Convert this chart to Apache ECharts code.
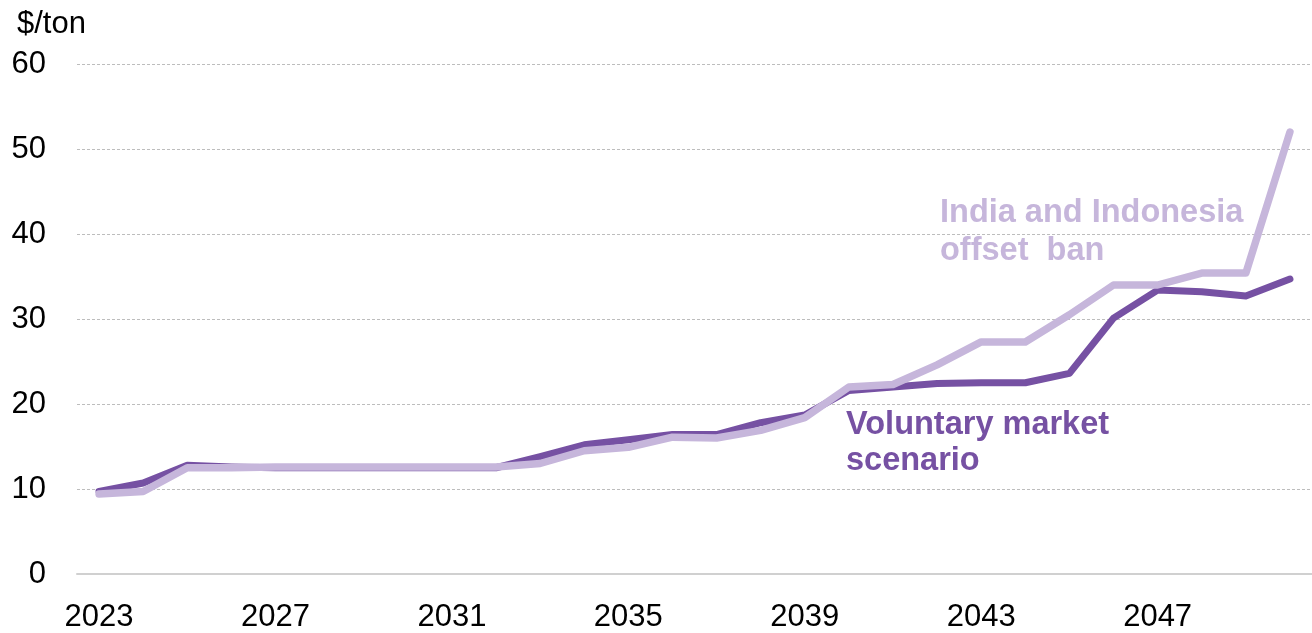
<!DOCTYPE html>
<html>
<head>
<meta charset="utf-8">
<script src="https://cdn.jsdelivr.net/npm/echarts@6/dist/echarts.min.js"></script>
<style>
  html, body { margin: 0; padding: 0; background: #fff; }
  #chart { width: 1312px; height: 633px; }
</style>
</head>
<body>
<div id="chart"></div>
<script>
var years = [];
for (var y = 2023; y <= 2050; y++) years.push(String(y));

// Voluntary market scenario ($/ton)
var voluntary = [9.7, 10.7, 12.8, 12.6, 12.5, 12.5, 12.5, 12.5, 12.5, 12.5,
  13.8, 15.2, 15.8, 16.4, 16.4, 17.8, 18.7, 21.6, 22.0, 22.4,
  22.5, 22.5, 23.6, 30.1, 33.4, 33.2, 32.7, 34.7];

// India and Indonesia offset ban ($/ton)
var offsetBan = [9.4, 9.7, 12.5, 12.5, 12.6, 12.6, 12.6, 12.6, 12.6, 12.6,
  13.0, 14.5, 14.9, 16.1, 16.0, 16.9, 18.4, 22.0, 22.3, 24.6,
  27.3, 27.3, 30.5, 34.0, 34.0, 35.4, 35.4, 52.0];

var yTicks = [0, 10, 20, 30, 40, 50, 60];

var darkPurple = '#7651a3';
var lightPurple = '#c6b6db';
var font = 'Liberation Sans, Arial, sans-serif';

var chart = echarts.init(document.getElementById('chart'));
chart.setOption({
  animation: false,
  title: {
    text: '$/ton',
    left: 12,
    top: 4,
    textStyle: { fontFamily: font, fontSize: 31, fontWeight: 'normal', color: '#000' }
  },
  grid: { left: 77, right: -9, top: 64, bottom: 55, containLabel: false },
  xAxis: {
    type: 'category',
    data: years,
    boundaryGap: true,
    axisLine: { lineStyle: { color: '#d0d0d0', width: 2 } },
    axisTick: { interval: 3, length: 10, lineStyle: { color: '#d0d0d0', width: 2 } },
    axisLabel: { interval: 3, color: '#000', fontFamily: font, fontSize: 31, margin: 28 }
  },
  yAxis: {
    type: 'value',
    min: yTicks[0],
    max: yTicks[yTicks.length - 1],
    interval: 10,
    axisLine: { show: false },
    axisTick: { show: false },
    axisLabel: { color: '#000', fontFamily: font, fontSize: 31, margin: 31 },
    splitLine: { lineStyle: { color: '#bdbdbd', type: [3, 2], width: 1 } }
  },
  series: [
    {
      name: 'Voluntary market scenario',
      type: 'line',
      data: voluntary,
      symbol: 'none',
      lineStyle: { color: darkPurple, width: 7, cap: 'round', join: 'round' },
      z: 2
    },
    {
      name: 'India and Indonesia offset ban',
      type: 'line',
      data: offsetBan,
      symbol: 'none',
      lineStyle: { color: lightPurple, width: 7.5, cap: 'round', join: 'round' },
      z: 3
    }
  ],
  graphic: [
    {
      type: 'text', left: 940, top: 194, z: 10,
      style: {
        text: 'India and Indonesia\noffset  ban',
        fill: lightPurple, font: 'bold 32.5px ' + font, lineHeight: 38
      }
    },
    {
      type: 'text', left: 846, top: 407, z: 10,
      style: {
        text: 'Voluntary market\nscenario',
        fill: darkPurple, font: 'bold 32.5px ' + font, lineHeight: 36
      }
    }
  ]
});
</script>
</body>
</html>
